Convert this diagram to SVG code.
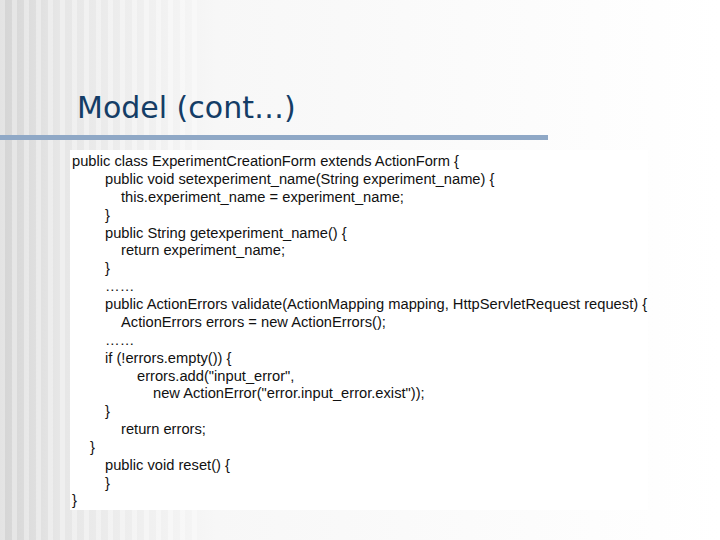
<svg xmlns="http://www.w3.org/2000/svg" width="720" height="540" viewBox="0 0 720 540">
<defs>
<linearGradient id="bg" x1="0" x2="1" y1="0" y2="0">
<stop offset="0" stop-color="#d4d4d4"/><stop offset="0.08" stop-color="#e6e6e6"/><stop offset="0.3" stop-color="#f7f7f7"/><stop offset="1" stop-color="#ffffff"/>
</linearGradient>
<pattern id="stripes" width="12" height="10" patternUnits="userSpaceOnUse"><rect width="5" height="10" fill="#ffffff" opacity="0.35"/></pattern>
<style>.c{font-family:"Liberation Sans",Arial,sans-serif;font-size:14.7px;fill:#111}</style>
</defs>
<rect width="720" height="540" fill="url(#bg)"/>
<rect width="200" height="540" fill="url(#stripes)"/>
<text x="77" y="118" font-family="DejaVu Sans,sans-serif" font-size="30" fill="#143d66">Model (cont…)</text>
<rect x="0" y="135" width="548" height="5" fill="#8fa8c6"/>
<g id="code">
<rect x="70" y="150" width="578" height="360" fill="#ffffff"/>
<text class="c" x="72" y="166">public class ExperimentCreationForm extends ActionForm {</text>
<text class="c" x="105" y="184">public void setexperiment_name(String experiment_name) {</text>
<text class="c" x="121" y="202">this.experiment_name = experiment_name;</text>
<text class="c" x="105" y="220">}</text>
<text class="c" x="105" y="238">public String getexperiment_name() {</text>
<text class="c" x="121" y="255">return experiment_name;</text>
<text class="c" x="105" y="273">}</text>
<text class="c" x="105" y="291">……</text>
<text class="c" x="105" y="309">public ActionErrors validate(ActionMapping mapping, HttpServletRequest request) {</text>
<text class="c" x="121" y="327">ActionErrors errors = new ActionErrors();</text>
<text class="c" x="105" y="345">……</text>
<text class="c" x="105" y="363">if (!errors.empty()) {</text>
<text class="c" x="137" y="381">errors.add("input_error",</text>
<text class="c" x="153" y="398">new ActionError("error.input_error.exist"));</text>
<text class="c" x="105" y="416">}</text>
<text class="c" x="121" y="434">return errors;</text>
<text class="c" x="90" y="452">}</text>
<text class="c" x="105" y="470">public void reset() {</text>
<text class="c" x="105" y="488">}</text>
<text class="c" x="72" y="505">}</text>
</g>
</svg>
